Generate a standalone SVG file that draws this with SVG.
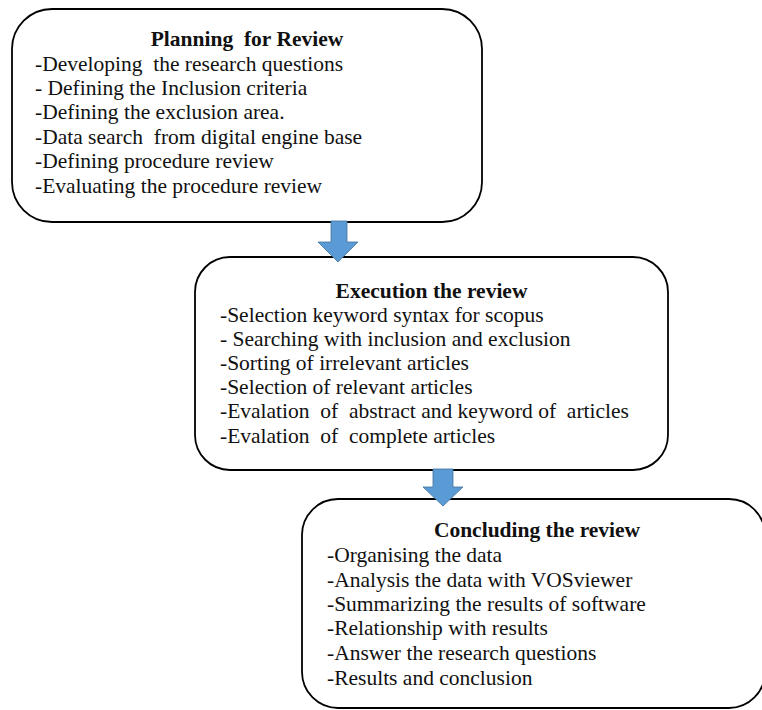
<svg xmlns="http://www.w3.org/2000/svg" width="762" height="710" viewBox="0 0 762 710">
  <style>
    .box { fill: #ffffff; stroke: #000000; stroke-width: 1.8; }
    .arrow { fill: #5B9BD5; stroke: #41719C; stroke-width: 0.8; }
    text { font-family: "Liberation Serif", "Times New Roman", serif; font-size: 21.5px; fill: #111111; white-space: pre; }
    .title { font-weight: bold; text-anchor: middle; }
  </style>
  <rect width="762" height="710" fill="#ffffff"/>

  <!-- Phase 1 -->
  <g id="planning">
    <rect class="box" x="12" y="9" width="470" height="213" rx="40" ry="40"/>
    <text class="title" x="247" y="46" xml:space="preserve">Planning&#160; for Review</text>
    <text x="35" y="71" xml:space="preserve">-Developing&#160; the research questions</text>
    <text x="35" y="95">- Defining the Inclusion criteria</text>
    <text x="35" y="119">-Defining the exclusion area.</text>
    <text x="35" y="144" xml:space="preserve">-Data search&#160; from digital engine base</text>
    <text x="35" y="168">-Defining procedure review</text>
    <text x="35" y="193">-Evaluating the procedure review</text>
  </g>

  <!-- Phase 2 -->
  <g id="execution">
    <rect class="box" x="195" y="257" width="473" height="213" rx="35" ry="35"/>
    <text class="title" x="431.5" y="298">Execution the review</text>
    <text x="220" y="322">-Selection keyword syntax for scopus</text>
    <text x="220" y="346">- Searching with inclusion and exclusion</text>
    <text x="220" y="370">-Sorting of irrelevant articles</text>
    <text x="220" y="394">-Selection of relevant articles</text>
    <text x="220" y="418" xml:space="preserve">-Evalation&#160; of&#160; abstract and keyword of&#160; articles</text>
    <text x="220" y="443" xml:space="preserve">-Evalation&#160; of&#160; complete articles</text>
  </g>

  <!-- Phase 3 -->
  <g id="concluding">
    <rect class="box" x="302" y="499" width="463" height="209" rx="36" ry="36"/>
    <text class="title" x="537" y="537">Concluding the review</text>
    <text x="327" y="562">-Organising the data</text>
    <text x="327" y="587">-Analysis the data with VOSviewer</text>
    <text x="327" y="611">-Summarizing the results of software</text>
    <text x="327" y="635">-Relationship with results</text>
    <text x="327" y="660">-Answer the research questions</text>
    <text x="327" y="685">-Results and conclusion</text>
  </g>

  <!-- Block arrows between phases -->
  <g id="connectors">
    <path class="arrow" d="M331,221 L347,221 L347,242 L358,242 L338,262 L318,242 L331,242 Z"/>
    <path class="arrow" d="M433,469 L453,469 L453,487 L463,487 L443,506 L423,487 L433,487 Z"/>
  </g>
</svg>
